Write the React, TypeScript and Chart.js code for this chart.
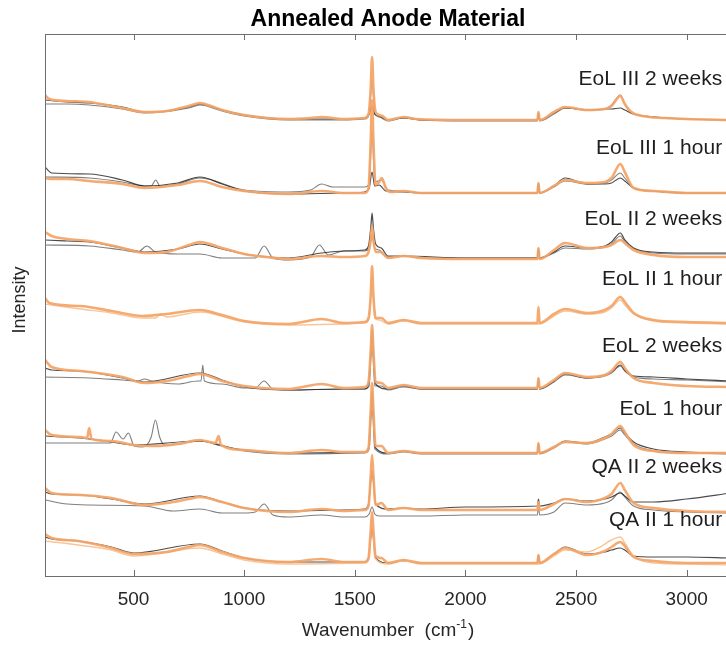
import React, { useEffect, useRef } from "react";
import { Chart, registerables } from "chart.js";

Chart.register(...registerables);

type P = [number, number][];

// ---- axis settings ----
const X_MIN = 100;
const X_MAX = 3200;
const X_TICKS = [500, 1000, 1500, 2000, 2500, 3000];
const Y_MIN = 0;
const Y_MAX = 542;

const TITLE = "Annealed Anode Material";
const X_TITLE = "Wavenumber  (cm";
const X_TITLE_SUP = "-1";
const Y_TITLE = "Intensity";

const GROUP_LABELS = [
  "EoL III 2 weeks",
  "EoL III 1 hour",
  "EoL II 2 weeks",
  "EoL II 1 hour",
  "EoL 2 weeks",
  "EoL 1 hour",
  "QA II 2 weeks",
  "QA II 1 hour",
];
const LABEL_LEVELS = [497, 428, 357, 297, 230, 167, 109, 56];
const LABEL_RIGHT_WN = 3160;

// ---- spectra: [wavenumber, stacked intensity] ----
// EoL III 2 weeks
const EOL3_2W_ORANGE: P = [[100,481],[120,477],[200,475],[300,474],[400,470],[450,468],[550,464],[650,465],[750,470],[800,473],[850,470],[900,466],[1000,461],[1200,457],[1300,458],[1350,459],[1450,457],[1545,458],[1562,462],[1572,488],[1578,519],[1584,488],[1594,464],[1610,461],[1625,460],[1650,456],[1720,459],[1780,457],[2000,456],[2325,456],[2330,464],[2335,456],[2400,464],[2450,469],[2550,466],[2630,467],[2660,470],[2700,480],[2720,472],[2750,464],[2800,460],[2900,458],[3000,457],[3200,456]];
const EOL3_2W_DARK: P = [[100,476],[200,474],[300,473],[450,469],[550,464],[650,465],[750,469],[800,472],[900,466],[1000,461],[1200,457],[1450,457],[1545,458],[1565,462],[1578,470],[1590,462],[1610,460],[1650,456],[1720,458],[1800,456],[2000,456],[2325,456],[2330,463],[2335,456],[2400,463],[2450,468],[2550,466],[2630,467],[2660,467],[2700,468],[2720,466],[2760,462],[2850,459],[3000,457],[3200,456]];
const EOL3_2W_GRAY: P = [[100,472],[200,472],[300,471],[450,467],[550,463],[750,468],[800,471],[900,465],[1000,460],[1200,456],[1450,456],[1545,457],[1565,462],[1578,496],[1590,462],[1610,459],[1650,455],[1720,458],[1800,456],[2000,455],[2325,455],[2330,463],[2335,455],[2400,462],[2450,468],[2550,466],[2630,467],[2660,471],[2700,481],[2720,472],[2750,463],[2850,459],[3000,457],[3200,456]];

// EoL III 1 hour
const EOL3_1H_ORANGE: P = [[100,398],[130,397],[200,397],[300,395],[450,392],[550,388],[700,391],[800,395],[900,389],[1000,385],[1200,382],[1350,385],[1450,383],[1545,383],[1562,388],[1572,436],[1578,476],[1584,436],[1594,391],[1610,394],[1622,398],[1640,388],[1660,384],[1720,385],[1800,383],[2000,383],[2325,383],[2330,393],[2335,383],[2400,390],[2450,396],[2550,393],[2630,394],[2660,398],[2700,412],[2720,404],[2760,388],[2850,385],[3000,383],[3200,383]];
const EOL3_1H_DARK: P = [[100,409],[130,403],[300,402],[450,396],[550,390],[700,393],[800,399],[900,392],[1000,385],[1200,382],[1450,383],[1545,384],[1565,388],[1578,404],[1590,390],[1610,391],[1640,385],[1720,384],[1800,383],[2000,383],[2325,383],[2330,393],[2335,383],[2400,390],[2450,398],[2550,392],[2630,392],[2660,393],[2700,398],[2720,395],[2760,388],[2850,385],[3000,383],[3200,383]];
const EOL3_1H_GRAY: P = [[100,399],[300,398],[450,394],[550,390],[580,390],[600,396],[620,390],[700,392],[800,398],[1000,386],[1200,384],[1300,386],[1350,392],[1400,389],[1450,389],[1545,389],[1565,392],[1578,446],[1590,394],[1620,396],[1650,386],[1720,385],[1800,383],[2000,383],[2325,383],[2330,392],[2335,383],[2400,389],[2450,395],[2550,392],[2630,393],[2660,396],[2700,403],[2720,398],[2760,388],[2850,385],[3000,383],[3200,383]];

// EoL II 2 weeks
const EOL2_2W_ORANGE: P = [[100,344],[130,340],[200,337],[300,335],[450,328],[550,323],[650,324],[750,331],[800,334],[900,328],[1000,322],[1100,319],[1200,317],[1350,320],[1450,319],[1545,320],[1562,324],[1572,336],[1578,350],[1584,336],[1594,324],[1615,324],[1650,318],[1720,320],[1800,318],[2000,317],[2325,317],[2330,328],[2335,317],[2400,326],[2450,333],[2550,328],[2630,329],[2660,331],[2700,336],[2730,331],[2760,326],[2850,321],[3000,319],[3200,319]];
const EOL2_2W_DARK: P = [[100,336],[200,335],[300,334],[450,328],[550,324],[700,327],[800,332],[900,327],[1000,322],[1200,318],[1350,323],[1450,325],[1545,326],[1562,330],[1572,348],[1578,363],[1584,348],[1594,332],[1620,328],[1650,320],[1720,320],[2000,318],[2325,318],[2330,328],[2335,318],[2400,324],[2450,330],[2550,328],[2630,330],[2660,334],[2700,343],[2720,336],[2760,328],[2850,324],[3000,323],[3200,323]];
const EOL2_2W_GRAY: P = [[100,331],[300,330],[450,326],[520,324],[560,330],[600,324],[700,322],[800,322],[900,318],[1050,318],[1090,330],[1130,318],[1200,316],[1300,319],[1340,331],[1380,321],[1450,325],[1545,325],[1565,328],[1578,341],[1590,328],[1610,326],[1650,319],[1720,320],[1800,318],[2000,318],[2325,318],[2330,327],[2335,318],[2400,323],[2450,328],[2550,327],[2630,329],[2660,332],[2700,340],[2720,334],[2760,327],[2850,323],[3000,322],[3200,322]];

// EoL II 1 hour
const EOL2_1H_ORANGE: P = [[100,278],[120,273],[260,270],[400,265],[540,260],[650,262],[800,266],[900,261],[1000,255],[1200,252],[1350,257],[1450,253],[1545,254],[1562,258],[1572,281],[1578,310],[1584,281],[1594,258],[1620,258],[1650,253],[1720,256],[1800,253],[2000,253],[2325,253],[2330,269],[2335,253],[2400,262],[2450,267],[2550,263],[2630,266],[2660,270],[2700,279],[2720,274],[2760,263],[2850,256],[3000,254],[3200,253]];
const EOL2_1H_LIGHT: P = [[100,272],[260,267],[400,263],[540,258],[600,258],[620,262],[650,259],[800,264],[1000,254],[1200,251],[1450,252],[1545,253],[1566,258],[1578,300],[1590,258],[1610,256],[1650,252],[1720,255],[1800,252],[2000,252],[2325,252],[2335,252],[2400,260],[2450,265],[2550,262],[2630,264],[2660,268],[2700,276],[2720,271],[2760,262],[2850,255],[3000,253],[3200,252]];

// EoL 2 weeks
const EOL_2W_ORANGE: P = [[100,216],[130,209],[260,205],[450,199],[550,193],[650,195],[750,200],[800,202],[900,195],[1000,190],[1200,187],[1350,192],[1450,188],[1545,189],[1562,194],[1572,226],[1578,251],[1584,226],[1594,194],[1620,193],[1650,188],[1720,191],[1800,188],[2000,188],[2325,188],[2330,198],[2335,188],[2400,196],[2450,203],[2550,199],[2630,201],[2660,205],[2700,214],[2720,208],[2760,198],[2850,193],[3000,190],[3200,189]];
const EOL_2W_DARK: P = [[100,208],[130,206],[260,205],[450,198],[550,194],[800,203],[900,196],[1000,189],[1200,186],[1450,187],[1545,187],[1562,192],[1572,222],[1578,246],[1584,222],[1594,192],[1650,187],[1720,190],[1800,187],[2000,187],[2325,187],[2330,198],[2335,187],[2400,195],[2450,202],[2550,198],[2630,201],[2660,204],[2700,211],[2720,206],[2760,200],[2850,199],[3000,197],[3200,195]];
const EOL_2W_GRAY: P = [[100,199],[300,198],[450,196],[520,195],[550,197],[580,195],[700,192],[790,195],[805,195],[813,211],[820,195],[900,192],[1000,188],[1050,188],[1090,195],[1130,187],[1200,186],[1450,187],[1545,187],[1565,190],[1578,236],[1590,190],[1620,190],[1650,186],[1720,189],[1800,187],[2000,187],[2325,187],[2330,196],[2335,187],[2400,194],[2450,201],[2550,198],[2630,200],[2660,203],[2700,210],[2720,205],[2760,199],[2850,197],[3000,196],[3200,194]];

// EoL 1 hour
const EOL_1H_ORANGE: P = [[100,146],[130,141],[260,139],[290,138],[300,148],[310,137],[400,135],[500,131],[600,130],[700,132],[800,136],[870,133],[885,140],[895,131],[1000,126],[1200,123],[1350,126],[1450,124],[1545,124],[1562,128],[1572,166],[1578,193],[1584,166],[1594,130],[1620,130],[1650,123],[1720,125],[1800,123],[2000,123],[2325,123],[2330,133],[2335,123],[2400,129],[2450,134],[2550,133],[2630,138],[2660,142],[2700,150],[2720,144],[2760,131],[2850,125],[3000,123],[3200,123]];
const EOL_1H_DARK: P = [[100,140],[260,138],[400,134],[500,131],[800,135],[900,130],[1000,126],[1200,123],[1545,124],[1562,128],[1572,160],[1578,186],[1584,160],[1594,128],[1650,123],[1720,125],[1800,123],[2000,123],[2325,123],[2330,133],[2335,123],[2400,129],[2450,135],[2550,133],[2630,139],[2660,142],[2700,148],[2720,143],[2760,134],[2850,127],[3000,124],[3200,123]];
const EOL_1H_GRAY: P = [[100,133],[300,133],[396,133],[421,144],[453,137],[477,143],[503,130],[540,129],[560,131],[580,139],[599,156],[618,139],[640,131],[700,132],[800,135],[1000,125],[1200,122],[1545,123],[1565,127],[1578,176],[1590,127],[1650,122],[1720,124],[1800,122],[2000,122],[2325,122],[2330,131],[2335,122],[2400,128],[2450,134],[2550,132],[2630,137],[2660,140],[2700,146],[2720,141],[2760,132],[2850,125],[3000,123],[3200,122]];

// QA II 2 weeks
const QA2_2W_ORANGE: P = [[100,88],[130,83],[260,81],[400,78],[550,71],[650,73],[750,77],[800,79],[900,74],[1000,68],[1200,64],[1350,67],[1450,65],[1545,66],[1562,70],[1572,101],[1578,121],[1584,101],[1594,71],[1620,73],[1650,66],[1720,68],[1800,66],[2000,66],[2325,66],[2330,74],[2335,66],[2400,72],[2450,77],[2550,74],[2630,78],[2660,82],[2700,93],[2720,86],[2760,73],[2850,68],[3000,65],[3200,64]];
const QA2_2W_DARK: P = [[100,84],[130,82],[260,81],[400,77],[550,72],[800,80],[900,74],[1000,68],[1200,65],[1450,66],[1545,67],[1562,72],[1572,95],[1578,106],[1584,95],[1594,72],[1650,67],[1720,68],[1800,67],[2000,69],[2325,70],[2330,77],[2335,70],[2400,73],[2450,77],[2550,75],[2630,77],[2660,79],[2700,83],[2720,80],[2760,74],[2850,74],[3000,77],[3200,83]];
const QA2_2W_GRAY: P = [[100,76],[200,72],[300,71],[550,70],[680,65],[800,67],[900,63],[1000,63],[1050,64],[1090,72],[1130,61],[1200,59],[1350,61],[1450,59],[1545,59],[1565,62],[1578,69],[1590,62],[1610,60],[1650,60],[1800,60],[2000,61],[2325,61],[2330,71],[2335,61],[2400,64],[2450,73],[2550,71],[2630,73],[2660,76],[2700,84],[2720,79],[2760,70],[2850,66],[3000,64],[3200,63]];

// QA II 1 hour
const QA2_1H_ORANGE: P = [[100,42],[130,38],[250,35],[400,28],[500,22],[650,24],[750,29],[800,31],[900,24],[1000,18],[1200,14],[1350,17],[1450,14],[1545,14],[1562,18],[1572,46],[1578,64],[1584,46],[1594,20],[1620,18],[1650,13],[1720,16],[1800,13],[2000,13],[2325,13],[2330,21],[2335,13],[2400,22],[2450,28],[2550,21],[2630,25],[2660,29],[2700,34],[2720,30],[2760,19],[2850,15],[3000,13],[3200,13]];
const QA2_1H_DARK: P = [[100,39],[130,37],[250,35],[400,29],[500,23],[800,32],[900,25],[1000,18],[1200,14],[1545,14],[1562,18],[1572,38],[1578,48],[1584,38],[1594,18],[1650,13],[1720,15],[1800,13],[2000,13],[2325,13],[2330,21],[2335,13],[2400,22],[2450,29],[2550,22],[2630,24],[2660,26],[2700,28],[2720,26],[2760,20],[2850,19],[3000,19],[3200,18]];
const QA2_1H_LIGHT: P = [[100,35],[250,31],[400,26],[500,20],[800,28],[900,22],[1000,16],[1200,12],[1545,13],[1565,18],[1578,61],[1590,18],[1650,12],[1720,15],[1800,12],[2000,12],[2325,12],[2335,12],[2400,20],[2450,26],[2550,24],[2600,28],[2660,36],[2700,39],[2720,33],[2760,20],[2850,13],[3000,12],[3200,11]];

type Kind = "orange" | "light" | "dark" | "gray";
const TRACES: { data: P; kind: Kind }[] = [
  { data: EOL3_2W_ORANGE, kind: "orange" },
  { data: EOL3_2W_DARK, kind: "dark" },
  { data: EOL3_2W_GRAY, kind: "gray" },
  { data: EOL3_1H_ORANGE, kind: "orange" },
  { data: EOL3_1H_DARK, kind: "dark" },
  { data: EOL3_1H_GRAY, kind: "gray" },
  { data: EOL2_2W_ORANGE, kind: "orange" },
  { data: EOL2_2W_DARK, kind: "dark" },
  { data: EOL2_2W_GRAY, kind: "gray" },
  { data: EOL2_1H_ORANGE, kind: "orange" },
  { data: EOL2_1H_LIGHT, kind: "light" },
  { data: EOL_2W_ORANGE, kind: "orange" },
  { data: EOL_2W_DARK, kind: "dark" },
  { data: EOL_2W_GRAY, kind: "gray" },
  { data: EOL_1H_ORANGE, kind: "orange" },
  { data: EOL_1H_DARK, kind: "dark" },
  { data: EOL_1H_GRAY, kind: "gray" },
  { data: QA2_2W_ORANGE, kind: "orange" },
  { data: QA2_2W_DARK, kind: "dark" },
  { data: QA2_2W_GRAY, kind: "gray" },
  { data: QA2_1H_ORANGE, kind: "orange" },
  { data: QA2_1H_DARK, kind: "dark" },
  { data: QA2_1H_LIGHT, kind: "light" },
];

const STYLE: Record<Kind, { color: string; width: number; order: number }> = {
  orange: { color: "rgba(243,165,105,0.95)", width: 2.6, order: 0 },
  light: { color: "rgba(248,198,155,1)", width: 1.4, order: 1 },
  dark: { color: "rgba(30,30,30,0.8)", width: 1.2, order: 2 },
  gray: { color: "rgba(105,105,105,0.85)", width: 1.1, order: 3 },
};

const FONT = '"Liberation Sans", Arial, Helvetica, sans-serif';

const framePlugin = {
  id: "frame",
  afterDatasetsDraw(chart: any) {
    const { ctx, chartArea: a, scales } = chart;
    const xs = scales.x;
    const ys = scales.y;
    ctx.save();
    // axes lines
    ctx.strokeStyle = "#6e6e6e";
    ctx.lineWidth = 1;
    ctx.beginPath();
    ctx.moveTo(a.left + 0.5, a.top + 0.5);
    ctx.lineTo(a.left + 0.5, a.bottom + 0.5);
    ctx.moveTo(a.left, a.top + 0.5);
    ctx.lineTo(a.right, a.top + 0.5);
    ctx.moveTo(a.left, a.bottom + 0.5);
    ctx.lineTo(a.right, a.bottom + 0.5);
    for (const t of X_TICKS) {
      const px = Math.round(xs.getPixelForValue(t)) + 0.5;
      ctx.moveTo(px, a.top);
      ctx.lineTo(px, a.top + 6);
      ctx.moveTo(px, a.bottom);
      ctx.lineTo(px, a.bottom - 6);
    }
    ctx.stroke();

    // tick labels
    ctx.fillStyle = "#262626";
    ctx.font = `19px ${FONT}`;
    ctx.textAlign = "center";
    ctx.textBaseline = "middle";
    for (const t of X_TICKS) {
      ctx.fillText(String(t), xs.getPixelForValue(t), a.bottom + 24);
    }

    // x title with superscript
    const cx = (a.left + a.right) / 2;
    ctx.font = `19px ${FONT}`;
    const w1 = ctx.measureText(X_TITLE).width;
    ctx.font = `12px ${FONT}`;
    const w2 = ctx.measureText(X_TITLE_SUP).width;
    ctx.font = `19px ${FONT}`;
    const w3 = ctx.measureText(")").width;
    const total = w1 + w2 + w3 + 1;
    let sx = cx - total / 2;
    const ty = a.bottom + 55;
    ctx.textAlign = "left";
    ctx.fillText(X_TITLE, sx, ty);
    sx += w1;
    ctx.font = `12px ${FONT}`;
    ctx.fillText(X_TITLE_SUP, sx, ty - 6);
    sx += w2 + 1;
    ctx.font = `19px ${FONT}`;
    ctx.fillText(")", sx, ty);

    // y title
    ctx.save();
    ctx.translate(20, 300);
    ctx.rotate(-Math.PI / 2);
    ctx.textAlign = "center";
    ctx.font = `18px ${FONT}`;
    ctx.fillText(Y_TITLE, 0, 0);
    ctx.restore();

    // title
    ctx.fillStyle = "#000";
    ctx.font = `bold 23px ${FONT}`;
    ctx.textAlign = "center";
    ctx.fillText(TITLE, cx, 20);

    // group labels
    ctx.fillStyle = "#1e1e1e";
    ctx.font = `21px ${FONT}`;
    ctx.textAlign = "right";
    const lx = xs.getPixelForValue(LABEL_RIGHT_WN);
    GROUP_LABELS.forEach((lab, i) => {
      ctx.fillText(lab, lx, ys.getPixelForValue(LABEL_LEVELS[i]));
    });
    ctx.restore();
  },
};

export default function App() {
  const ref = useRef<HTMLCanvasElement | null>(null);
  useEffect(() => {
    if (!ref.current) return;
    const chart = new Chart(ref.current, {
      type: "line",
      data: {
        datasets: TRACES.map((t, i) => ({
          label: `trace ${i}`,
          data: t.data.map(([x, y]) => ({ x, y })),
          borderColor: STYLE[t.kind].color,
          borderWidth: STYLE[t.kind].width,
          order: STYLE[t.kind].order,
          pointRadius: 0,
          fill: false,
          cubicInterpolationMode: "monotone" as const,
        })),
      },
      options: {
        responsive: false,
        animation: false,
        devicePixelRatio: 1,
        layout: { padding: { left: 45, top: 34, right: 14, bottom: 70 } },
        plugins: { legend: { display: false }, tooltip: { enabled: false }, title: { display: false } },
        scales: {
          x: { type: "linear", min: X_MIN, max: X_MAX, display: false },
          y: { type: "linear", min: Y_MIN, max: Y_MAX, display: false },
        },
        events: [],
      },
      plugins: [framePlugin],
    });
    return () => chart.destroy();
  }, []);
  return (
    <div
      style={{
        position: "fixed",
        left: 0,
        top: 0,
        width: 726,
        height: 646,
        overflow: "hidden",
        background: "#fff",
      }}
    >
      <canvas ref={ref} width={745} height={646} style={{ width: 745, height: 646, display: "block" }} />
    </div>
  );
}
